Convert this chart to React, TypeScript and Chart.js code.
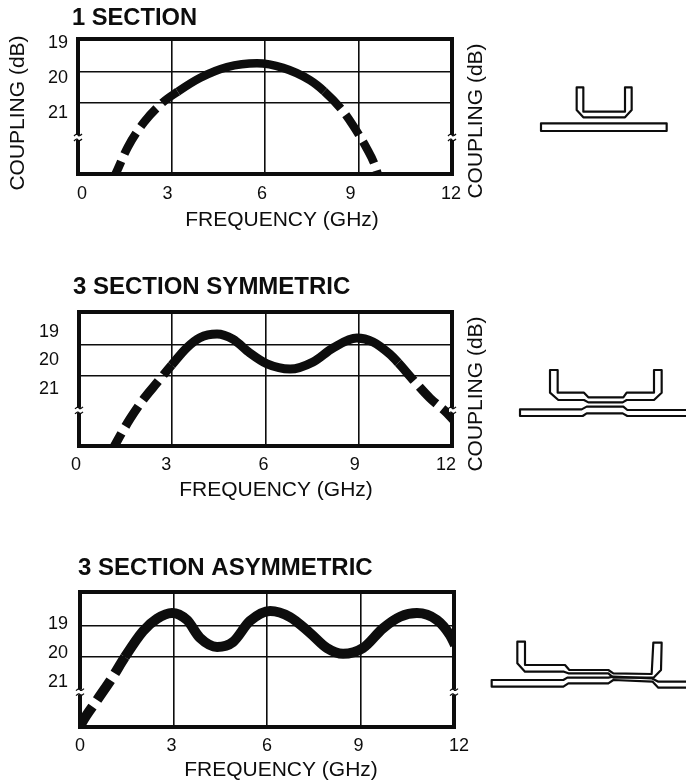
import React, { useEffect, useRef } from "react";
import { Chart, registerables } from "chart.js";

Chart.register(...registerables);

const FONT = '"Liberation Sans", Arial, sans-serif';
const INK = "#0d0d0d";

const X_TICK_STEP = 3;
const TICK_LABELS = [19, 20, 21];

const freq1 = [1.05, 1.19, 1.6, 2.12, 2.73, 3.2, 3.91, 4.78, 5.74, 6.58, 7.44, 7.9, 8.47, 8.82, 9.27, 9.53, 9.7];
const db1 = [23.0, 22.77, 21.97, 21.26, 20.69, 20.39, 20.0, 19.69, 19.58, 19.71, 20.06, 20.38, 20.91, 21.35, 22.02, 22.5, 23.0];
const grid1 = [19.83, 20.71];

const freq2 = [1.0, 1.16, 1.64, 2.06, 2.51, 2.98, 3.47, 3.89, 4.44, 4.95, 5.5, 6.05, 6.79, 7.53, 8.17, 8.94, 9.46, 10.0, 10.27, 10.75, 11.29, 11.84, 12.1];
const db2 = [23.3, 22.96, 22.05, 21.38, 20.78, 20.16, 19.55, 19.2, 19.07, 19.25, 19.74, 20.12, 20.3, 20.05, 19.56, 19.21, 19.35, 19.78, 20.08, 20.68, 21.32, 21.84, 22.16];
const grid2 = [19.46, 20.54];

const freq3 = [0, 0.06, 0.55, 1.03, 1.44, 2.02, 2.47, 2.95, 3.43, 3.85, 4.4, 4.91, 5.45, 6.1, 6.74, 7.38, 7.92, 8.44, 9.08, 9.72, 10.27, 10.81, 11.45, 11.87, 12.03];
const db3 = [22.55, 22.41, 21.62, 20.86, 20.14, 19.25, 18.82, 18.62, 18.86, 19.48, 19.79, 19.62, 18.9, 18.55, 18.76, 19.31, 19.83, 20.03, 19.83, 19.15, 18.75, 18.62, 18.86, 19.38, 19.72];
const grid3 = [19.06, 20.14];

type Txt = { text: string; x: number; y: number; size: number; bold?: boolean; rot?: boolean; left?: boolean };

type PanelCfg = {
  top: number; height: number;
  L: number; R: number; T: number; B: number;
  yMin: number; yMax: number;
  freq: number[]; db: number[]; grid: number[];
  solid: [number, number];
  lineWidth: number; dash: number[];
  yPad: number; xPad: number;
  xLabelNudge: number[];
  breakDb: number;
  texts: Txt[];
};

const panels: PanelCfg[] = [
  {
    top: 0, height: 240, L: 78, R: 452, T: 39, B: 174,
    yMin: 18.886, yMax: 22.743, freq: freq1, db: db1, grid: grid1, solid: [3.2, 7.9],
    lineWidth: 8.5, dash: [24, 8], yPad: 10, xPad: 9, xLabelNudge: [4, -4, -3, -8, -1], breakDb: 21.7,
    texts: [
      { text: "1 SECTION", x: 72, y: 18, size: 23.7, bold: true, left: true },
      { text: "FREQUENCY (GHz)", x: 282, y: 220, size: 21 },
      { text: "COUPLING (dB)", x: 18, y: 113, size: 21, rot: true },
      { text: "COUPLING (dB)", x: 476, y: 121, size: 21, rot: true },
    ],
  },
  {
    top: 270, height: 240, L: 79, R: 452, T: 42, B: 176,
    yMin: 18.298, yMax: 23.0, freq: freq2, db: db2, grid: grid2, solid: [2.98, 10.27],
    lineWidth: 9, dash: [24, 8], yPad: 20, xPad: 8, xLabelNudge: [-3, -6, -2, -4, -6], breakDb: 21.75,
    texts: [
      { text: "3 SECTION SYMMETRIC", x: 73, y: 17, size: 24, bold: true, left: true },
      { text: "FREQUENCY (GHz)", x: 276, y: 220, size: 21 },
      { text: "COUPLING (dB)", x: 476, y: 124, size: 21, rot: true },
    ],
  },
  {
    top: 550, height: 232, L: 80, R: 454, T: 42, B: 177,
    yMin: 17.897, yMax: 22.552, freq: freq3, db: db3, grid: grid3, solid: [1.44, 12.1],
    lineWidth: 10, dash: [24, 8], yPad: 12, xPad: 8, xLabelNudge: [0, -2, 0, -2, 5], breakDb: 21.35,
    texts: [
      { text: "3 SECTION ASYMMETRIC", x: 78, y: 18, size: 24, bold: true, left: true },
      { text: "FREQUENCY (GHz)", x: 281, y: 220, size: 21 },
    ],
  },
];

const framePlugin = {
  id: "frame",
  afterDatasetsDraw(chart: any) {
    const cfg: PanelCfg = chart.options.plugins.frame.cfg;
    const { ctx, chartArea: a } = chart;
    ctx.save();
    ctx.strokeStyle = INK;
    ctx.lineWidth = 4;
    ctx.strokeRect(a.left, a.top, a.right - a.left, a.bottom - a.top);
    const by = chart.scales.y.getPixelForValue(cfg.breakDb);
    [a.left, a.right].forEach((bx: number) => {
      ctx.fillStyle = "#fff";
      ctx.fillRect(bx - 3, by - 2.5, 6, 5);
      ctx.lineWidth = 1.3;
      [-2.5, 2.5].forEach((d) => {
        ctx.beginPath();
        ctx.moveTo(bx - 4, by + d + 1);
        ctx.quadraticCurveTo(bx - 1, by + d - 2, bx, by + d);
        ctx.quadraticCurveTo(bx + 1, by + d + 2, bx + 4, by + d - 1);
        ctx.stroke();
      });
    });
    ctx.fillStyle = INK;
    ctx.textBaseline = "middle";
    cfg.texts.forEach((t) => {
      ctx.save();
      ctx.font = `${t.bold ? "bold " : ""}${t.size}px ${FONT}`;
      ctx.textAlign = t.left ? "left" : "center";
      ctx.translate(t.x, t.y);
      if (t.rot) ctx.rotate(-Math.PI / 2);
      ctx.fillText(t.text, 0, 0);
      ctx.restore();
    });
    ctx.restore();
  },
};

function Panel({ cfg }: { cfg: PanelCfg }) {
  const ref = useRef<HTMLCanvasElement | null>(null);
  useEffect(() => {
    const inSolid = (x: number) => x >= cfg.solid[0] - 1e-6 && x <= cfg.solid[1] + 1e-6;
    const chart = new Chart(ref.current as HTMLCanvasElement, {
      type: "line",
      data: {
        datasets: [
          {
            data: cfg.freq.map((x, i) => ({ x, y: cfg.db[i] })),
            borderColor: INK,
            borderWidth: cfg.lineWidth,
            pointRadius: 0,
            cubicInterpolationMode: "monotone",
            clip: 0,
            segment: {
              borderDash: (c: any) =>
                inSolid(c.p0.parsed.x) && inSolid(c.p1.parsed.x) ? undefined : cfg.dash,
            },
          },
        ],
      },
      options: {
        animation: false,
        responsive: false,
        events: [],
        layout: { padding: { top: cfg.T, right: 686 - cfg.R, left: 0, bottom: 0 } },
        plugins: { legend: { display: false }, tooltip: { enabled: false }, frame: { cfg } } as any,
        scales: {
          x: {
            type: "linear",
            min: 0,
            max: 12,
            afterFit: (s: any) => { s.height = cfg.height - cfg.B; },
            afterUpdate: (s: any) => {
              const base = s.getLabelItems.bind(s);
              s.getLabelItems = (area: any) => {
                const items = base(area);
                if (!items.nudged) {
                  items.forEach((it: any, i: number) => {
                    it.options.translation = [it.options.translation[0] + (cfg.xLabelNudge[i] || 0), it.options.translation[1]];
                  });
                  items.nudged = true;
                }
                return items;
              };
            },
            border: { display: false },
            grid: { color: INK, lineWidth: 1.6, drawTicks: false },
            ticks: {
              stepSize: X_TICK_STEP,
              autoSkip: false,
              maxRotation: 0,
              color: INK,
              padding: cfg.xPad,
              font: { family: FONT, size: 18 },
            },
          },
          y: {
            type: "linear",
            reverse: true,
            min: cfg.yMin,
            max: cfg.yMax,
            afterFit: (s: any) => { s.width = cfg.L; },
            afterBuildTicks: (s: any) => {
              s.ticks = [...TICK_LABELS, ...cfg.grid].sort((a, b) => a - b).map((value) => ({ value }));
            },
            border: { display: false },
            grid: {
              drawTicks: false,
              lineWidth: 1.6,
              color: (c: any) => (cfg.grid.includes(c.tick?.value) ? INK : "rgba(0,0,0,0)"),
            },
            ticks: {
              autoSkip: false,
              color: INK,
              padding: cfg.yPad,
              font: { family: FONT, size: 18 },
              callback: (v: any) => (TICK_LABELS.includes(v) ? String(v) : ""),
            },
          },
        },
      },
      plugins: [framePlugin],
    } as any);
    return () => chart.destroy();
  }, [cfg]);
  return (
    <canvas
      ref={ref}
      width={686}
      height={cfg.height}
      style={{ position: "absolute", left: 0, top: cfg.top, width: 686, height: cfg.height }}
    />
  );
}

const sketches: { top: number; shapes: string[] }[] = [
  {
    top: 70,
    shapes: [
      "M290 52H310V125H435V52H455V120L435 142H310L290 120Z",
      "M183 160H560V183H183Z",
    ],
  },
  {
    top: 350,
    shapes: [
      "M210 60H233V128H312L325 142H430L440 128H522V60H545V128L522 150H440L428 157H325L312 150H235L210 128Z",
      "M618 180H442L430 170H320L305 178H120V198H308L320 190H428L442 198H618",
    ],
  },
  {
    top: 630,
    shapes: [
      "M112 35H135V105H255L268 120H385L400 130L515 132L520 38H545L543 120L522 142L400 143L385 130H265L252 125H135L112 100Z",
      "M618 155H535L515 145L400 140L385 143H262L250 150H35V170H250L265 160H385L400 150L518 155L535 173H618",
    ],
  },
];

export default function App() {
  return (
    <div style={{ position: "absolute", left: 0, top: 0, width: 686, height: 782, overflow: "hidden", background: "#fff" }}>
      {panels.map((p, i) => (
        <Panel key={i} cfg={p} />
      ))}
      {sketches.map((s, i) => (
        <svg
          key={i}
          width={206}
          height={80}
          viewBox="0 0 618 240"
          style={{ position: "absolute", left: 480, top: s.top }}
        >
          {s.shapes.map((d, j) => (
            <path key={j} d={d} fill="none" stroke={INK} strokeWidth={6.5} strokeLinejoin="round" />
          ))}
        </svg>
      ))}
    </div>
  );
}
